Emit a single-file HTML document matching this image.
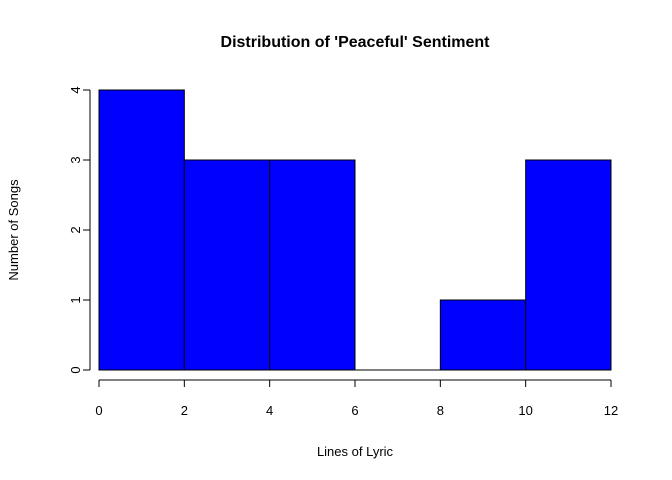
<!DOCTYPE html>
<html><head><meta charset="utf-8"><style>
body{margin:0;background:#fff}
svg{display:block;font-family:"Liberation Sans",Arial,sans-serif}
</style></head><body>
<svg id="c" width="672" height="480">
<text x="355" y="47" text-anchor="middle" font-size="16" font-weight="bold">Distribution of 'Peaceful' Sentiment</text>
<text x="355" y="456" text-anchor="middle" font-size="13">Lines of Lyric</text>
<text transform="translate(18,230) rotate(-90)" text-anchor="middle" font-size="13">Number of Songs</text>
<g id="bars"></g><g id="axes"></g>
</svg>
<script>
const binEdges=[0,2,4,6,8,10,12];
const counts=[4,3,3,0,1,3];
const xTicks=[0,2,4,6,8,10,12];
const yTicks=[0,1,2,3,4];
const NS="http://www.w3.org/2000/svg";
const xs=v=>99+(v-0)*(611-99)/12;
const ys=v=>370-v*70;
function mk(t,a,p){const e=document.createElementNS(NS,t);for(const k in a)e.setAttribute(k,a[k]);p.appendChild(e);return e;}
const bars=document.getElementById('bars'),axes=document.getElementById('axes');
counts.forEach((c,i)=>{
 const x0=xs(binEdges[i]),x1=xs(binEdges[i+1]);
 let r;
 if(c===0){
  r=mk('line',{x1:x0,x2:x1,y1:ys(0),y2:ys(0),stroke:'#000','stroke-width':1},bars);
 } else {
  r=mk('rect',{x:x0,y:ys(c),width:x1-x0,height:ys(0)-ys(c),fill:'#0000ff',stroke:'#000','stroke-width':1},bars);
 }
 
 
});
const xl=mk('line',{x1:xs(xTicks[0]),x2:xs(xTicks[xTicks.length-1]),y1:380,y2:380,stroke:'#000'},axes);


xTicks.forEach(t=>{
 mk('line',{x1:xs(t),x2:xs(t),y1:380,y2:387,stroke:'#000'},axes);
 const tx=mk('text',{x:xs(t),y:415,'text-anchor':'middle','font-size':13},axes);
 tx.textContent=t;
 
 
});
const yl=mk('line',{x1:90,x2:90,y1:ys(yTicks[0]),y2:ys(yTicks[yTicks.length-1]),stroke:'#000'},axes);


yTicks.forEach(t=>{
 mk('line',{x1:83,x2:90,y1:ys(t),y2:ys(t),stroke:'#000'},axes);
 const tx=mk('text',{transform:`translate(80,${ys(t)}) rotate(-90)`,'text-anchor':'middle','font-size':13},axes);
 tx.textContent=t;
 
 
});
</script>
</body></html>
